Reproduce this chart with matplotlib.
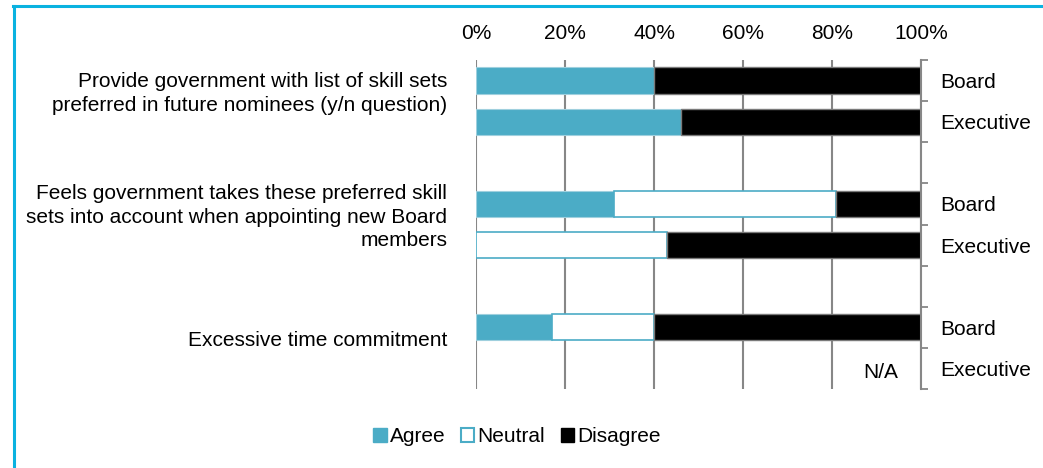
"""Stacked horizontal bars: Board vs Executive views on skill-set nominations."""

import matplotlib
matplotlib.use("Agg")
import matplotlib.pyplot as plt
import matplotlib.patches as mpatches
import matplotlib.lines as mlines
import numpy as np

plt.rcParams["font.family"] = ["Liberation Sans", "DejaVu Sans"]

# Data (percent), rows top to bottom; None = not asked (N/A)
questions = [
    "Provide government with list of skill sets\npreferred in future nominees (y/n question)",
    "Feels government takes these preferred skill\nsets into account when appointing new Board\nmembers",
    "Excessive time commitment",
]
respondents = ["Board", "Executive"]
agree    = [40, 46, 31, 0, 17, None]
neutral  = [0, 0, 50, 43, 23, None]
disagree = [60, 54, 19, 57, 60, None]
x_ticks = [0, 20, 40, 60, 80, 100]

AGREE_C = "#4BACC6"
GRID_C = "#878787"
FS = 15

fig = plt.figure(figsize=(10.43, 4.68), dpi=100)
ax = fig.add_axes([476 / 1043, 1 - 389 / 468, 445 / 1043, 329 / 468])

# slot positions: Board, Executive, gap, ...
ypos = []
for g in range(len(questions)):
    ypos += [g * 3, g * 3 + 1]

bar_h = 0.64
for y, a, n, d in zip(ypos, agree, neutral, disagree):
    if a is None:
        continue
    if a > 0:
        ax.barh(y, a, height=bar_h, color=AGREE_C, edgecolor="#9fd0de", linewidth=0.8, zorder=3)
    if n > 0:
        ax.barh(y, n, left=a, height=bar_h, color="white", edgecolor=AGREE_C, linewidth=1.2, zorder=3)
    if d > 0:
        ax.barh(y, d, left=a + n, height=bar_h, color="black", edgecolor="#7a7a7a", linewidth=1.0, zorder=3)

# N/A marker for missing row
for y, a in zip(ypos, agree):
    if a is None:
        ax.text(91, y + 0.1, "N/A", ha="center", va="center", fontsize=FS)

ax.set_xlim(0, 100)
ax.set_ylim(len(questions) * 3 - 1 - 0.5, -0.5)
ax.xaxis.tick_top()
ax.set_xticks(x_ticks)
ax.set_xticklabels([f"{t}%" for t in x_ticks], fontsize=FS)
ax.tick_params(axis="x", length=0, pad=12)
ax.set_yticks([])
for t in x_ticks:
    ax.axvline(t, color=GRID_C, linewidth=1.5, zorder=1)
for s in ax.spines.values():
    s.set_visible(False)

# question labels on the left
for g, q in enumerate(questions):
    ax.text(-6.5, g * 3 + 0.5 - 0.18, q, ha="right", va="center", fontsize=FS,
            linespacing=1.32, transform=ax.transData, clip_on=False)

# right-hand respondent axis with bracket ticks
ax2 = ax.twinx()
ax2.set_ylim(ax.get_ylim())
ax2.spines["right"].set_color(GRID_C)
ax2.spines["right"].set_linewidth(1.5)
for k in ["left", "top", "bottom"]:
    ax2.spines[k].set_visible(False)
bounds = np.arange(-0.5, len(questions) * 3 - 1, 1.0)
ax2.set_yticks(bounds)
ax2.set_yticklabels([])
ax2.tick_params(axis="y", which="major", length=5, width=1.3, color=GRID_C, direction="out")
ax2.set_yticks(ypos, minor=True)
ax2.set_yticklabels(respondents * len(questions), minor=True, fontsize=FS)
ax2.tick_params(axis="y", which="minor", length=0, pad=14)

# legend
handles = [
    mpatches.Patch(facecolor=AGREE_C, edgecolor=AGREE_C, label="Agree"),
    mpatches.Patch(facecolor="white", edgecolor=AGREE_C, linewidth=1.5, label="Neutral"),
    mpatches.Patch(facecolor="black", edgecolor="black", label="Disagree"),
]
fig.legend(handles=handles, loc="center", bbox_to_anchor=(517 / 1043, 1 - 437 / 468),
           ncol=3, frameon=False, fontsize=FS, handlelength=0.65, handleheight=0.65,
           handletextpad=0.15, columnspacing=0.75)

# cyan frame (left and top edges)
BORDER_C = "#0AB2E0"
fig.add_artist(mlines.Line2D([14 / 1043, 14 / 1043], [0, 1 - 6 / 468], color=BORDER_C,
                             linewidth=2.2, transform=fig.transFigure))
fig.add_artist(mlines.Line2D([13 / 1043, 1], [1 - 6 / 468, 1 - 6 / 468], color=BORDER_C,
                             linewidth=2.2, transform=fig.transFigure))

fig.savefig("out.png", dpi=100)
